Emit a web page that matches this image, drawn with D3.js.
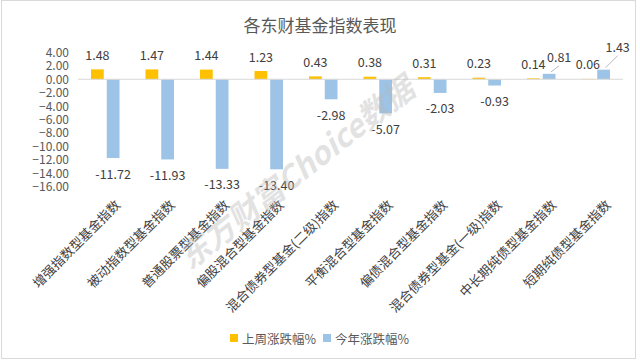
<!DOCTYPE html>
<html>
<head>
<meta charset="utf-8">
<script src="https://cdn.jsdelivr.net/npm/d3@7"></script>
<style>
  body { margin: 0; background: #fff; }
  svg text { font-family: "Noto Sans CJK SC", "Noto Sans", sans-serif; }
</style>
</head>
<body>
<div id="chart"></div>
<script>
// Chart data
const categories = [
    "增强指数型基金指数", "被动指数型基金指数", "普通股票型基金指数", "偏股混合型基金指数",
    "混合债券型基金(二级)指数", "平衡混合型基金指数", "偏债混合型基金指数",
    "混合债券型基金(一级)指数", "中长期纯债型基金指数", "短期纯债型基金指数"
];
const seriesNames = ["上周涨跌幅%", "今年涨跌幅%"];
const weekly = [1.48, 1.47, 1.44, 1.23, 0.43, 0.38, 0.31, 0.23, 0.14, 0.06];
const ytd = [-11.72, -11.93, -13.33, -13.40, -2.98, -5.07, -2.03, -0.93, 0.81, 1.43];
const yTicks = [4, 2, 0, -2, -4, -6, -8, -10, -12, -14, -16];
const colors = ["#FFC000", "#9DC3E6"];

const W = 640, H = 361;
const plot = { left: 78, right: 623, top: 52.4, bottom: 186.8 };

const svg = d3.select("#chart").append("svg")
    .attr("width", W)
    .attr("height", H);

// frame
svg.append("rect")
    .attr("x", 1.5).attr("y", 0.5)
    .attr("width", 634).attr("height", 358)
    .attr("fill", "#fff")
    .attr("stroke", "#d9d9d9");

// title
svg.append("text")
    .attr("x", 320).attr("y", 32)
    .attr("text-anchor", "middle")
    .attr("font-size", 17)
    .attr("fill", "#595959")
    .text("各东财基金指数表现");

// scales
const x0 = d3.scaleBand().domain(categories).range([plot.left, plot.right]);
const x1 = d3.scaleBand().domain(seriesNames).range([13, 41.5]).paddingInner(0.19);
const y = d3.scaleLinear().domain([-16, 4]).range([plot.bottom, plot.top]);

// y axis labels
const yAxis = svg.append("g")
    .attr("transform", `translate(${plot.left - 9},0)`)
    .call(d3.axisLeft(y).tickValues(yTicks).tickSize(0).tickPadding(0).tickFormat(d3.format(".2f")));
yAxis.select(".domain").remove();
yAxis.selectAll("text")
    .attr("font-size", 12)
    .attr("fill", "#595959")
    .style("font-family", "'Noto Sans CJK SC', sans-serif");

// bars
const rows = categories.map((c, i) => ({ cat: c, vals: [weekly[i], ytd[i]] }));
const groups = svg.selectAll("g.cat")
    .data(rows)
    .join("g")
    .attr("class", "cat")
    .attr("transform", d => `translate(${x0(d.cat)},0)`);

groups.selectAll("rect")
    .data(d => d.vals.map((v, k) => ({ key: seriesNames[k], v, k })))
    .join("rect")
    .attr("x", d => x1(d.key))
    .attr("width", x1.bandwidth())
    .attr("y", d => y(Math.max(0, d.v)))
    .attr("height", d => Math.abs(y(d.v) - y(0)))
    .attr("fill", d => colors[d.k]);

// zero axis line
svg.append("line")
    .attr("x1", plot.left).attr("x2", plot.right)
    .attr("y1", y(0)).attr("y2", y(0))
    .attr("stroke", "#d9d9d9");

// data labels
groups.each(function (d, i) {
    const g = d3.select(this);
    d.vals.forEach((v, k) => {
        const cx = x1(seriesNames[k]) + x1.bandwidth() / 2;
        let lx = cx, ly = v >= 0 ? y(v) - 15 : y(v) + 15;
        if (k === 1 && v > 0) {
            // positive year labels pushed aside with a leader line
            const dx = i === 8 ? 10 : 14;
            const dy = i === 8 ? 17 : 23;
            lx = cx + dx; ly = y(v) - dy;
            g.append("line")
                .attr("x1", cx + 2).attr("y1", y(v) - 2)
                .attr("x2", cx + dx).attr("y2", ly + 9)
                .attr("stroke", "#a6a6a6").attr("stroke-width", 0.8);
        }
        g.append("text")
            .attr("x", lx).attr("y", ly)
            .attr("text-anchor", "middle")
            .attr("dominant-baseline", "central")
            .attr("font-size", 12.5)
            .attr("fill", "#404040")
            .text(v.toFixed(2));
    });
});

// category labels
svg.append("g").selectAll("text")
    .data(categories)
    .join("text")
    .attr("transform", d => `translate(${x0(d) + x0.bandwidth() / 2 + 12},202) rotate(-45)`)
    .attr("text-anchor", "end")
    .attr("dominant-baseline", "central")
    .attr("font-size", 13)
    .attr("fill", "#404040")
    .text(d => d);

// watermark
svg.append("text")
    .attr("transform", "translate(295,171) rotate(-38)")
    .attr("text-anchor", "middle")
    .attr("dominant-baseline", "central")
    .attr("font-size", 31)
    .attr("font-weight", "bold")
    .attr("font-style", "italic")
    .attr("fill", "#b8b8b8")
    .attr("opacity", 0.4)
    .text("东方财富Choice数据");

// legend
const legend = svg.append("g").attr("transform", "translate(230,338)");
const items = legend.selectAll("g")
    .data(seriesNames)
    .join("g")
    .attr("transform", (d, i) => `translate(${i * 93},0)`);
items.append("rect")
    .attr("x", 0).attr("y", -4)
    .attr("width", 8).attr("height", 8)
    .attr("fill", (d, i) => colors[i]);
items.append("text")
    .attr("x", 12).attr("y", 0)
    .attr("dominant-baseline", "central")
    .attr("font-size", 12.5)
    .attr("fill", "#595959")
    .text(d => d);
</script>
</body>
</html>
